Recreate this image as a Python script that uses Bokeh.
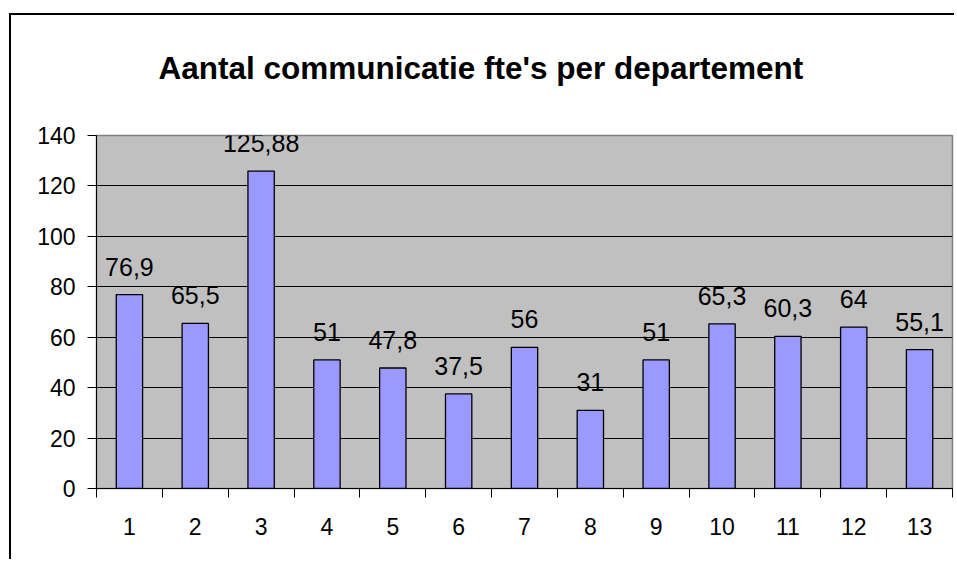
from bokeh.plotting import figure
from bokeh.models import Range1d, FixedTicker, ColumnDataSource, LabelSet
from bokeh.core.properties import value
from bokeh.embed import file_html
from bokeh.resources import INLINE

# ---- data ----
departments = [1, 2, 3, 4, 5, 6, 7, 8, 9, 10, 11, 12, 13]
fte = [76.9, 65.5, 125.88, 51, 47.8, 37.5, 56, 31, 51, 65.3, 60.3, 64, 55.1]
fte_labels = ["76,9", "65,5", "125,88", "51", "47,8", "37,5", "56", "31", "51",
              "65,3", "60,3", "64", "55,1"]
y_ticks = [0, 20, 40, 60, 80, 100, 120, 140]
title_text = "Aantal communicatie fte's per departement"

FONT = "Liberation Sans"

src = ColumnDataSource(dict(x=departments, y=fte, lab=fte_labels))

p = figure(width=954, height=559, output_backend="svg", toolbar_location=None,
           x_range=Range1d(0.5, 13.5), y_range=Range1d(0, 140),
           min_border_left=96, min_border_right=2, min_border_top=135,
           min_border_bottom=71)
# outer chart box (top and left edges), drawn behind the transparent canvas border
p.styles = {
    "background-image": "linear-gradient(#000, #000), linear-gradient(#000, #000)",
    "background-position": "9px 13px, 9px 13px",
    "background-size": "100% 2px, 2px 100%",
    "background-repeat": "no-repeat, no-repeat",
}

p.background_fill_color = "#C0C0C0"
p.border_fill_color = None
p.outline_line_color = "#808080"
p.outline_line_width = 1.5

p.title.text = title_text
p.title.text_font = FONT
p.title.text_font_size = "31.5px"
p.title.text_font_style = "bold"
p.title.text_color = "black"
p.title.text_line_height = 1.0
p.title.align = "left"
p.title.vertical_align = "top"
p.title.offset = 62
p.title.standoff = 95

p.vbar(x="x", top="y", width=0.4, source=src, fill_color="#9999FF",
       line_color="black", line_width=1.3)
p.add_layout(LabelSet(x="x", y="y", text="lab", source=src, text_align="center",
                      text_baseline="alphabetic", y_offset=19,
                      text_font=value(FONT), text_font_size=value("25px"),
                      text_color="black"))

# grid
p.xgrid.visible = False
p.ygrid.ticker = FixedTicker(ticks=y_ticks)
p.ygrid.grid_line_color = "black"
p.ygrid.grid_line_width = 1

# y axis
p.yaxis.ticker = FixedTicker(ticks=y_ticks)
p.yaxis.axis_line_color = "black"
p.yaxis.major_tick_line_color = "black"
p.yaxis.major_tick_out = 9
p.yaxis.major_tick_in = 0
p.yaxis.minor_tick_line_color = None
p.yaxis.major_label_text_font = FONT
p.yaxis.major_label_text_font_size = "23px"
p.yaxis.major_label_text_color = "black"
p.yaxis.major_label_standoff = 12

# x axis: labels at centers, tick marks at category boundaries
p.xaxis.ticker = FixedTicker(ticks=departments,
                             minor_ticks=[d - 0.5 for d in departments] + [departments[-1] + 0.5])
p.xaxis.axis_line_color = "black"
p.xaxis.major_tick_out = 0
p.xaxis.major_tick_in = 0
p.xaxis.minor_tick_out = 9
p.xaxis.minor_tick_in = 0
p.xaxis.minor_tick_line_color = "black"
p.xaxis.major_label_text_font = FONT
p.xaxis.major_label_text_font_size = "23px"
p.xaxis.major_label_text_color = "black"
p.xaxis.major_label_standoff = 20

open("out.html", "w").write(file_html(p, INLINE))
